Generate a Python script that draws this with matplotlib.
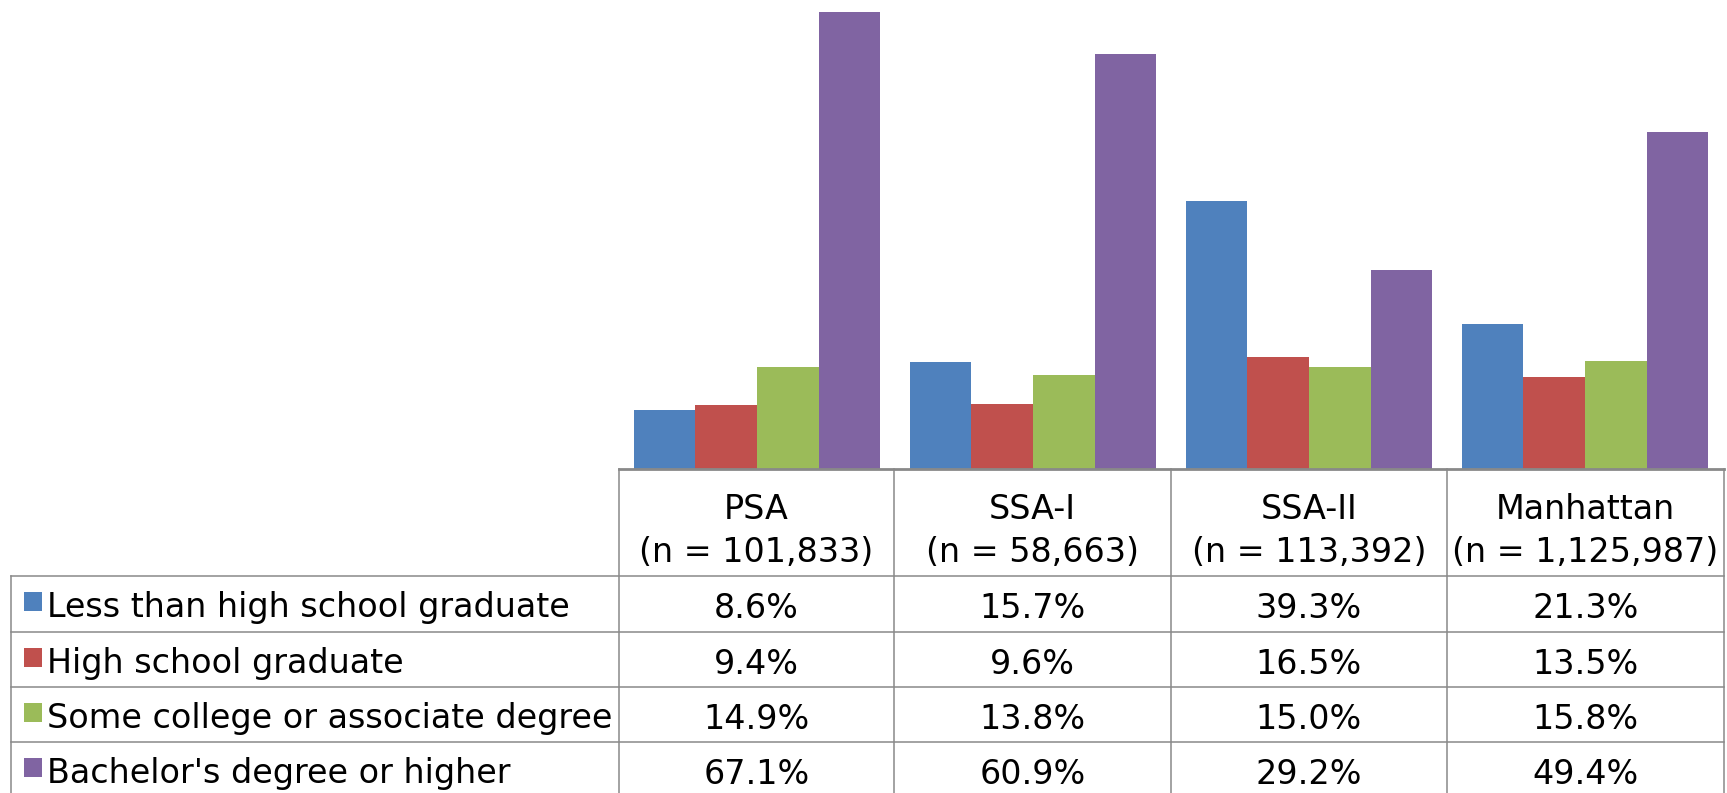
import matplotlib.pyplot as plt
from matplotlib.patches import Rectangle
import numpy as np

plt.rcParams['font.family'] = ['DejaVu Sans']

areas = ['PSA', 'SSA-I', 'SSA-II', 'Manhattan']
sample_sizes = ['101,833', '58,663', '113,392', '1,125,987']
levels = ['Less than high school graduate', 'High school graduate',
          'Some college or associate degree', "Bachelor's degree or higher"]
less_than_hs = [8.6, 15.7, 39.3, 21.3]
hs_grad = [9.4, 9.6, 16.5, 13.5]
some_college = [14.9, 13.8, 15.0, 15.8]
bachelors = [67.1, 60.9, 29.2, 49.4]

series = [less_than_hs, hs_grad, some_college, bachelors]
colors = ['#4F81BD', '#C0504D', '#9BBB59', '#8064A2']

W, H = 1727, 793
fig = plt.figure(figsize=(W / 100, H / 100), dpi=100)

# bar area sits right above the data table
ax = fig.add_axes([619 / W, 1 - 469 / H, (1723 - 619) / W, 469 / H])
x = np.arange(len(areas))
bw = 0.2236
for i, vals in enumerate(series):
    ax.bar(x + (i - 1.5) * bw, vals, bw, color=colors[i], linewidth=0)
ax.set_xlim(-0.5, len(areas) - 0.5)
ax.set_ylim(0, 68.8)
ax.axis('off')

# overlay in pixel coordinates for the data table
tb = fig.add_axes([0, 0, 1, 1], zorder=3)
tb.set_xlim(0, W)
tb.set_ylim(H, 0)
tb.axis('off')
tb.patch.set_alpha(0)

grid = '#898989'
col_x = [619, 894, 1171, 1447, 1724]
row_y = [576, 632, 687, 742, 798]
lw = 1.1

tb.plot([col_x[0], col_x[-1]], [469, 469], color=grid, lw=2.0)
for y in row_y[:-1]:
    tb.plot([11, col_x[-1]], [y, y], color=grid, lw=lw)
tb.plot([11, 11], [576, 798], color=grid, lw=lw)
for cx in col_x:
    tb.plot([cx, cx], [469, 798], color=grid, lw=lw)

fs = 24
for j, (name, n) in enumerate(zip(areas, sample_sizes)):
    cx = (col_x[j] + col_x[j + 1]) / 2
    tb.text(cx, 519, name, ha='center', va='baseline', fontsize=fs)
    tb.text(cx, 562, f'(n = {n})', ha='center', va='baseline', fontsize=fs)

for i, (label, vals) in enumerate(zip(levels, series)):
    cy = (row_y[i] + row_y[i + 1]) / 2
    tb.add_patch(Rectangle((24, cy - 12), 18, 19, color=colors[i], lw=0))
    tb.text(47, cy + 13.5, label, ha='left', va='baseline', fontsize=fs)
    for j, v in enumerate(vals):
        cx = (col_x[j] + col_x[j + 1]) / 2
        tb.text(cx, cy + 14.5, f'{v:.1f}%', ha='center', va='baseline', fontsize=fs)

fig.savefig('out.png', dpi=100)
